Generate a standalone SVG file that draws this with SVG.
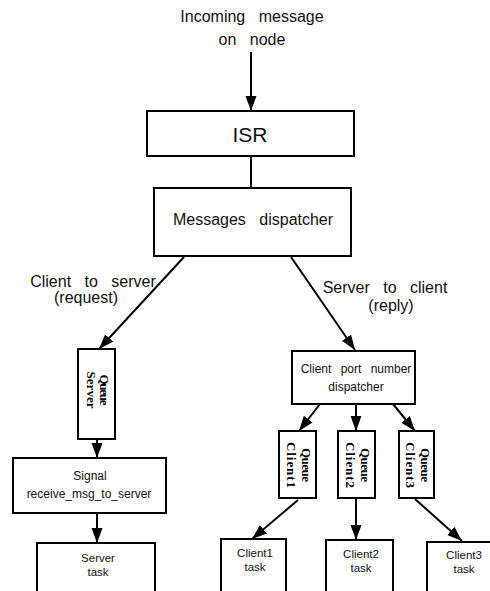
<svg xmlns="http://www.w3.org/2000/svg" width="490" height="591" viewBox="0 0 490 591">
<style>
  .box{fill:#fff;stroke:#000;stroke-width:2}
  .ln{fill:none;stroke:#000;stroke-width:2}
  .t{font-family:"Liberation Sans",Arial,sans-serif;fill:#111;text-anchor:middle}
  .t16{font-size:16px;word-spacing:9px}
  .t12{font-size:12px}
  .tk{font-size:11.5px}
  .q{font-family:"Liberation Serif","Times New Roman",serif;font-weight:bold;font-size:13px;fill:#000;text-anchor:middle}
</style>
<defs>
  <marker id="ah" markerUnits="userSpaceOnUse" markerWidth="16" markerHeight="12" refX="15" refY="5.5" orient="auto">
    <path d="M0,0 L15,5.5 L0,11 z" fill="#000"/>
  </marker>
</defs>
<rect width="490" height="591" fill="#fff"/>

<g id="connectors">
  <line class="ln" x1="251" y1="52" x2="251" y2="111" marker-end="url(#ah)"/>
  <line class="ln" x1="251" y1="156" x2="251" y2="188"/>
  <line class="ln" x1="184" y1="257" x2="99" y2="349" marker-end="url(#ah)"/>
  <line class="ln" x1="291" y1="257" x2="355" y2="350" marker-end="url(#ah)"/>
  <line class="ln" x1="97" y1="439" x2="97" y2="458" marker-end="url(#ah)"/>
  <line class="ln" x1="97" y1="513" x2="97" y2="543" marker-end="url(#ah)"/>
  <line class="ln" x1="320" y1="404" x2="299" y2="431" marker-end="url(#ah)"/>
  <line class="ln" x1="356" y1="404" x2="356" y2="431" marker-end="url(#ah)"/>
  <line class="ln" x1="393" y1="404" x2="415" y2="431" marker-end="url(#ah)"/>
  <line class="ln" x1="298" y1="500" x2="252" y2="539" marker-end="url(#ah)"/>
  <line class="ln" x1="356" y1="499" x2="356" y2="540" marker-end="url(#ah)"/>
  <line class="ln" x1="415" y1="499" x2="462" y2="541" marker-end="url(#ah)"/>
  <text class="t t16" x="93" y="287">Client to server</text>
  <text class="t t16" x="86" y="303">(request)</text>
  <text class="t t16" x="385" y="293">Server to client</text>
  <text class="t t16" x="391" y="311">(reply)</text>
</g>

<g id="incoming">
  <text class="t t16" x="252" y="22">Incoming message</text>
  <text class="t t16" x="252" y="45">on node</text>
</g>

<g id="isr">
  <rect class="box" x="147" y="111" width="207" height="45"/>
  <text class="t" x="250" y="142" font-size="21">ISR</text>
</g>

<g id="messages-dispatcher">
  <rect class="box" x="154" y="188" width="197" height="68"/>
  <text class="t t16" x="253" y="225">Messages dispatcher</text>
</g>

<g id="queue-server">
  <rect class="box" x="78" y="349" width="37" height="90"/>
  <g transform="translate(96.5,390) rotate(90)">
    <text class="q" x="0" y="-3" textLength="31" lengthAdjust="spacing">Queue</text>
    <text class="q" x="0" y="10" textLength="37" lengthAdjust="spacing">Server</text>
  </g>
</g>

<g id="signal">
  <rect class="box" x="13" y="458" width="153" height="55"/>
  <text class="t t12" x="90" y="480">Signal</text>
  <text class="t t12" x="89" y="498">receive_msg_to_server</text>
</g>

<g id="server-task">
  <rect class="box" x="37" y="543" width="118" height="60"/>
  <text class="t tk" x="98" y="562">Server</text>
  <text class="t tk" x="98" y="576">task</text>
</g>

<g id="client-port-dispatcher">
  <rect class="box" x="292" y="351" width="123" height="53"/>
  <text class="t t12" x="356" y="373" style="word-spacing:6px">Client port number</text>
  <text class="t t12" x="356" y="391">dispatcher</text>
</g>

<g id="queue-client1">
  <rect class="box" x="279" y="431" width="37" height="67"/>
  <g transform="translate(297.5,465) rotate(90)">
    <text class="q" x="0" y="-4.5" textLength="34" lengthAdjust="spacing">Queue</text>
    <text class="q" x="0" y="10.5" textLength="46" lengthAdjust="spacing">Client1</text>
  </g>
</g>

<g id="queue-client2">
  <rect class="box" x="338" y="431" width="37" height="67"/>
  <g transform="translate(356.5,465) rotate(90)">
    <text class="q" x="0" y="-4.5" textLength="34" lengthAdjust="spacing">Queue</text>
    <text class="q" x="0" y="10.5" textLength="46" lengthAdjust="spacing">Client2</text>
  </g>
</g>

<g id="queue-client3">
  <rect class="box" x="399" y="431" width="35" height="67"/>
  <g transform="translate(416.5,465) rotate(90)">
    <text class="q" x="0" y="-4.5" textLength="34" lengthAdjust="spacing">Queue</text>
    <text class="q" x="0" y="10.5" textLength="46" lengthAdjust="spacing">Client3</text>
  </g>
</g>

<g id="client1-task">
  <rect class="box" x="221" y="539" width="65" height="64"/>
  <text class="t tk" x="255" y="557">Client1</text>
  <text class="t tk" x="255" y="571">task</text>
</g>

<g id="client2-task">
  <rect class="box" x="326" y="540" width="67" height="63"/>
  <text class="t tk" x="361" y="558">Client2</text>
  <text class="t tk" x="361" y="572">task</text>
</g>

<g id="client3-task">
  <rect class="box" x="427" y="542" width="70" height="61"/>
  <text class="t tk" x="464" y="559">Client3</text>
  <text class="t tk" x="464" y="573">task</text>
</g>
</svg>
